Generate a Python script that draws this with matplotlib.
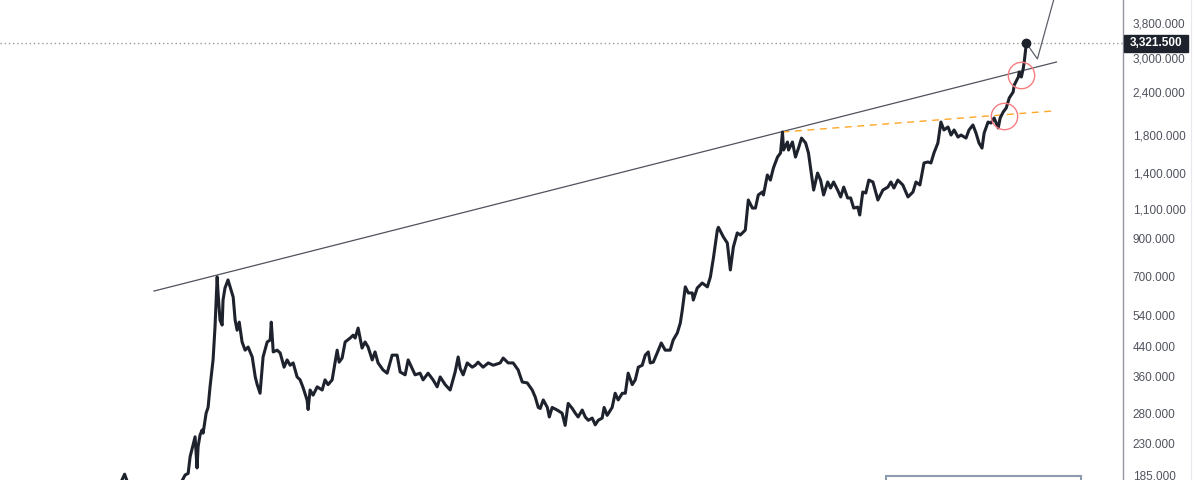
import matplotlib.pyplot as plt
from matplotlib.patches import Rectangle
from matplotlib.lines import Line2D

# Gold price (USD/oz), x in decimal years
years = [1973.5, 1974.2, 1974.8, 1975.0, 1975.5, 1976.6, 1977.5,
         1978.03, 1978.20, 1978.37, 1978.48, 1978.65, 1978.76, 1978.87, 1978.93, 1979.04, 1979.15,
         1979.21, 1979.32, 1979.38, 1979.49, 1979.60, 1979.72, 1979.77, 1979.88, 1980.00, 1980.05,
         1980.16, 1980.28, 1980.33, 1980.44, 1980.61, 1980.73, 1980.90, 1981.01, 1981.12, 1981.24,
         1981.40, 1981.57, 1981.74, 1981.97, 1982.14, 1982.25, 1982.41, 1982.58, 1982.81, 1982.98,
         1983.04, 1983.15, 1983.37, 1983.54, 1983.76, 1983.93, 1984.10, 1984.27, 1984.49, 1984.66,
         1984.83, 1985.05, 1985.11, 1985.22, 1985.39, 1985.62, 1985.90, 1986.06, 1986.23, 1986.46,
         1986.74, 1986.85, 1987.02, 1987.19, 1987.47, 1987.64, 1987.75, 1987.92, 1988.14, 1988.31,
         1988.48, 1988.71, 1988.87, 1989.04, 1989.32, 1989.55, 1989.83, 1990.11, 1990.28, 1990.56,
         1990.73, 1990.95, 1991.12, 1991.40, 1991.57, 1991.85, 1992.13, 1992.36, 1992.53, 1992.81,
         1993.09, 1993.37, 1993.54, 1993.65, 1993.82, 1994.05, 1994.33, 1994.50, 1994.66, 1994.94,
         1995.23, 1995.51, 1995.90, 1996.07, 1996.35, 1996.63, 1996.91, 1997.14, 1997.42, 1997.70,
         1997.87, 1998.04, 1998.15, 1998.32, 1998.55, 1998.66, 1998.82, 1999.10, 1999.38, 1999.55,
         1999.72, 1999.95, 2000.12, 2000.28, 2000.51, 2000.68, 2000.85, 2001.07, 2001.24, 2001.41,
         2001.63, 2001.74, 2001.91, 2002.19, 2002.36, 2002.53, 2002.76, 2002.93, 2003.09, 2003.32,
         2003.49, 2003.66, 2003.88, 2004.05, 2004.22, 2004.33, 2004.50, 2004.72, 2004.95, 2005.17,
         2005.45, 2005.62, 2005.85, 2006.02, 2006.13, 2006.30, 2006.47, 2006.69, 2006.75, 2006.97,
         2007.25, 2007.54, 2007.71, 2007.88, 2008.10, 2008.16, 2008.44, 2008.66, 2008.83, 2009.00,
         2009.22, 2009.39, 2009.67, 2009.84, 2010.07, 2010.24, 2010.40, 2010.63, 2010.69, 2010.91,
         2011.08, 2011.25, 2011.48, 2011.65, 2011.76, 2011.82, 2012.04, 2012.10, 2012.32, 2012.49,
         2012.66, 2012.83, 2013.06, 2013.22, 2013.51, 2013.73, 2013.90, 2014.07, 2014.30, 2014.46,
         2014.63, 2014.86, 2015.03, 2015.20, 2015.42, 2015.59, 2015.76, 2015.99, 2016.10, 2016.27,
         2016.44, 2016.61, 2016.84, 2017.12, 2017.40, 2017.68, 2017.85, 2018.02, 2018.24, 2018.52,
         2018.81, 2019.09, 2019.26, 2019.48, 2019.71, 2019.93, 2020.10, 2020.27, 2020.49, 2020.66,
         2020.83, 2021.06, 2021.23, 2021.40, 2021.62, 2021.79, 2022.07, 2022.24, 2022.46, 2022.63,
         2022.80, 2022.97, 2023.09, 2023.31, 2023.48, 2023.65, 2023.88, 2023.99, 2024.16, 2024.33,
         2024.50, 2024.72, 2024.78, 2025.01, 2025.06, 2025.18, 2025.29, 2025.34, 2025.46]
prices = [120, 160, 187, 175, 165, 110, 150,
          179, 186, 188, 210, 228, 240, 195, 225, 243, 251,
          246, 268, 281, 292, 335, 382, 401, 500, 698, 627,
          523, 506, 598, 648, 684, 653, 610, 523, 489, 516,
          452, 428, 437, 409, 358, 340, 321, 409, 452, 458,
          516, 423, 428, 420, 382, 401, 387, 393, 358, 351,
          333, 307, 288, 328, 317, 335, 328, 351, 340, 351,
          428, 395, 406, 452, 464, 473, 464, 496, 434, 452,
          437, 401, 423, 393, 375, 367, 414, 414, 370, 363,
          401, 379, 363, 367, 351, 367, 351, 335, 358, 340,
          328, 370, 409, 379, 363, 393, 382, 387, 395, 382,
          393, 387, 393, 406, 393, 393, 375, 346, 344, 328,
          313, 292, 290, 307, 292, 274, 292, 287, 281, 259,
          300, 290, 281, 274, 287, 274, 268, 272, 260, 268,
          272, 292, 277, 292, 321, 307, 321, 321, 367, 340,
          351, 382, 387, 414, 423, 393, 395, 420, 449, 428,
          428, 458, 480, 513, 559, 653, 627, 627, 598, 648,
          670, 653, 698, 792, 954, 972, 911, 875, 731, 852,
          936, 923, 954, 1166, 1105, 1105, 1206, 1230, 1206, 1378,
          1332, 1444, 1553, 1596, 1836, 1628, 1717, 1628, 1717, 1553,
          1649, 1763, 1706, 1596, 1246, 1396, 1332, 1206, 1315, 1263,
          1315, 1246, 1190, 1271, 1182, 1182, 1105, 1112, 1055, 1230,
          1222, 1332, 1315, 1166, 1246, 1271, 1315, 1263, 1332, 1289,
          1190, 1230, 1315, 1289, 1493, 1503, 1493, 1596, 1706, 1962,
          1861, 1898, 1799, 1861, 1775, 1799, 1763, 1861, 1924, 1824,
          1706, 1649, 1824, 1962, 1949, 2016, 1886, 2016, 2098, 2155,
          2304, 2398, 2512, 2650, 2740, 2650, 2814, 2929, 3321.5]

last_price = 3321.5

# drawings
trend_x = [1976.45, 2027.15]
trend_y = [635, 2929]
support_x = [2011.76, 2026.98]
support_y = [1836, 2113]
proj_x = [2025.46, 2026.08, 2027.15]
proj_y = [3321.5, 2990, 4737]
circle_x = [2025.18, 2024.22]
circle_y = [2687, 2043]

yticks = [185, 230, 280, 360, 440, 540, 700, 900, 1100, 1400, 1800, 2400, 3000, 3800]

fig = plt.figure(figsize=(12, 4.8), dpi=100)
ax = fig.add_axes([0, 0, 1123 / 1200, 1])

ax.plot(years, prices, color='#1e222d', lw=2.2, solid_joinstyle='round', zorder=3)
ax.plot(years[-1], prices[-1], 'o', color='#1e222d', ms=6, zorder=4)

ax.plot(trend_x, trend_y, color='#50535e', lw=0.9, zorder=2)
ax.plot(support_x, support_y, color='#ffa726', lw=1, dashes=(5, 4), zorder=2)
ax.plot(proj_x, proj_y, color='#5d606b', lw=0.9, zorder=2)
ax.plot(circle_x, circle_y, 'o', ms=19, mfc='none', mec='#f77c80', mew=1, zorder=5)
ax.axhline(last_price, color='#9598a1', lw=1, linestyle=(0, (1, 2)), zorder=1)

ax.set_yscale('log')
ax.set_xlim(1967.8, 2030.89)
ax.set_ylim(179.9, 4431)

ax.yaxis.tick_right()
ax.set_yticks(yticks)
ax.set_yticklabels([f'{v:,.3f}' for v in yticks])
ax.yaxis.set_minor_locator(plt.NullLocator())
ax.tick_params(axis='y', length=0, pad=7, labelsize=8.5, labelcolor='#50535e')
for lab in ax.get_yticklabels():
    lab.set_family('Liberation Sans')
ax.set_xticks([])

for side in ['top', 'left', 'bottom']:
    ax.spines[side].set_visible(False)
ax.spines['right'].set_color('#9598a1')
ax.spines['right'].set_linewidth(1)

# last price label on the scale
fig.patches.append(Rectangle((1124 / 1200, 1 - 52 / 480), 64 / 1200, 17 / 480,
                             transform=fig.transFigure, color='#1e222d', zorder=5))
fig.text(1130 / 1200, 1 - 43.5 / 480, f'{last_price:,.3f}', color='white', fontsize=8.5,
         family='Liberation Sans', fontweight='bold', va='center', ha='left', zorder=6)

# faint outer border and bottom box
fig.lines.append(Line2D([1191 / 1200, 1191 / 1200], [0, 1], transform=fig.transFigure,
                        color='#e6e8ee', lw=0.8))
fig.patches.append(Rectangle((886 / 1200, -0.02), 195 / 1200, 0.02 + 4 / 480,
                             transform=fig.transFigure, facecolor='white',
                             edgecolor='#8d9bb0', lw=1.5, zorder=6))

fig.savefig('out.png', dpi=100)
